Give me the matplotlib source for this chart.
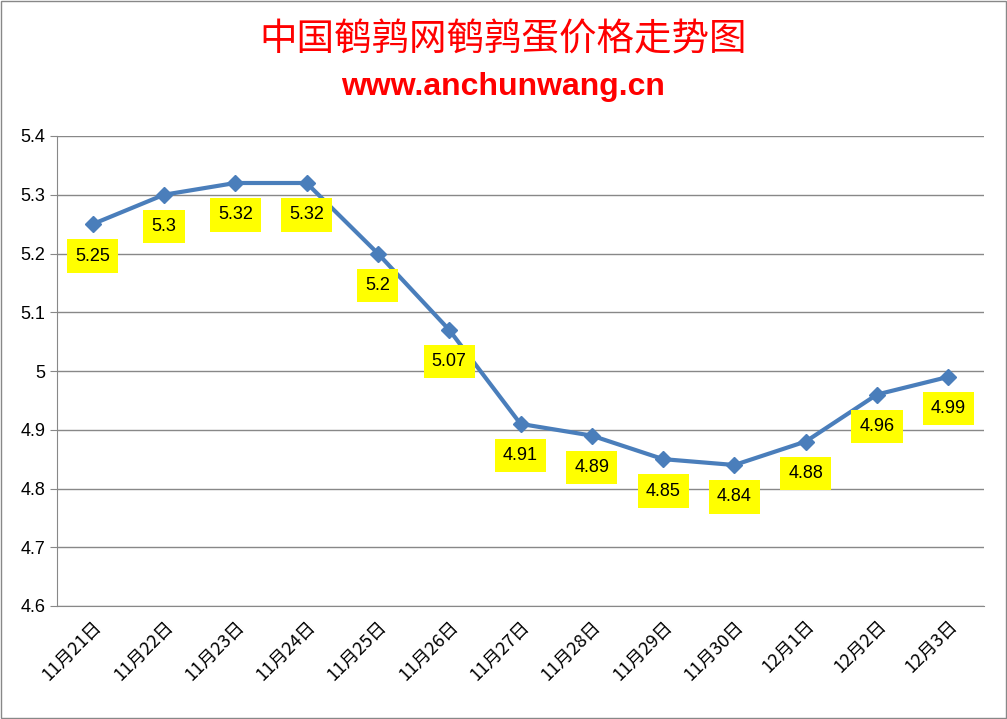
import matplotlib.pyplot as plt
from matplotlib.patches import Rectangle

plt.rcParams['font.family'] = ['Noto Sans CJK SC', 'DejaVu Sans']

dates = ['11月21日', '11月22日', '11月23日', '11月24日', '11月25日', '11月26日', '11月27日',
         '11月28日', '11月29日', '11月30日', '12月1日', '12月2日', '12月3日']
prices = [5.25, 5.3, 5.32, 5.32, 5.2, 5.07, 4.91, 4.89, 4.85, 4.84, 4.88, 4.96, 4.99]
labels = ['5.25', '5.3', '5.32', '5.32', '5.2', '5.07', '4.91', '4.89', '4.85', '4.84', '4.88', '4.96', '4.99']

fig = plt.figure(figsize=(10.07, 7.19), dpi=100)
fig.patches.append(Rectangle((0.001, 0.001), 0.998, 0.997, transform=fig.transFigure,
                             fill=False, edgecolor='#888888', lw=1))
ax = fig.add_axes([57/1007, 1-606/719, 927/1007, 470/719])

x = list(range(len(dates)))
ax.plot(x, prices, color='#4a7ebb', lw=3, marker='D', markersize=8, zorder=3)
for xi, yi, t in zip(x, prices, labels):
    ax.annotate(t, (xi, yi), xytext=(0, -23), textcoords='offset points', ha='center', va='center',
                fontsize=13, family=['Liberation Sans'],
                bbox=dict(boxstyle='square,pad=0.45', fc='#ffff00', ec='none'))

ax.set_xlim(-0.5, len(dates) - 0.5)
ax.set_ylim(4.6, 5.4)
ax.set_yticks([4.6, 4.7, 4.8, 4.9, 5.0, 5.1, 5.2, 5.3, 5.4])
ax.set_yticklabels(['4.6', '4.7', '4.8', '4.9', '5', '5.1', '5.2', '5.3', '5.4'],
                   fontsize=13, family=['Liberation Sans'])
ax.set_xticks(x)
ax.set_xticklabels(dates, rotation=45, ha='right', rotation_mode='anchor', fontsize=13)
ax.grid(axis='y', color='#888888', lw=1)
ax.set_axisbelow(True)
for s in ['top', 'right']:
    ax.spines[s].set_visible(False)
ax.spines['left'].set_color('#888888')
ax.spines['bottom'].set_color('#888888')
ax.tick_params(axis='x', length=0, pad=8)
ax.tick_params(axis='y', length=5, color='#888888')

fig.text(0.5, 1-40/719, '中国鹌鹑网鹌鹑蛋价格走势图', color='red', fontsize=27,
         ha='center', va='center')
fig.text(0.5, 1-87/719, 'www.anchunwang.cn', color='red', fontsize=23, fontweight='bold',
         ha='center', va='center', family=['Liberation Sans'])

fig.savefig('out.png', dpi=100)
